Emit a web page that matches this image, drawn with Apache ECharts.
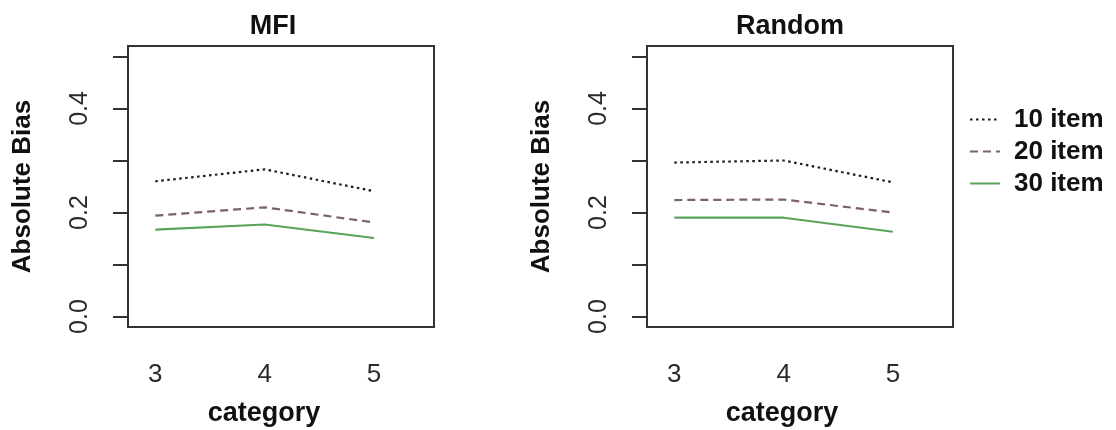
<!DOCTYPE html>
<html>
<head>
<meta charset="utf-8">
<script src="https://cdn.jsdelivr.net/npm/echarts@6/dist/echarts.min.js"></script>
<style>
  html, body { margin: 0; padding: 0; background: #fff; }
  #chart { width: 1116px; height: 430px; }
</style>
</head>
<body>
<div id="chart"></div>
<script>
// x positions (number of categories)
const categories = [3, 4, 5];
const seriesNames = ["10 item", "20 item", "30 item"];
// MFI panel
const mfi10 = [0.260, 0.283, 0.241];
const mfi20 = [0.194, 0.210, 0.181];
const mfi30 = [0.167, 0.177, 0.151];
// Random panel
const rnd10 = [0.296, 0.300, 0.258];
const rnd20 = [0.224, 0.225, 0.200];
const rnd30 = [0.190, 0.190, 0.163];
// y axis ticks / labels
const yTicks = [0, 0.1, 0.2, 0.3, 0.4, 0.5];
const yLabels = [0, 0.2, 0.4];

const font = "'Liberation Sans', Arial, sans-serif";
const styles = [
  { color: "#1a1a1a", type: [2.5, 3.5] },
  { color: "#7d6262", type: [8, 5] },
  { color: "#5aa35a", type: "solid" }
];

function pairs(ys) {
  return categories.map((x, i) => [x, ys[i]]);
}

function xAxis(idx, padRight) {
  return {
    type: "value",
    gridIndex: idx,
    min: 2.75,
    max: 5.55,
    axisLine: { show: false },
    axisTick: { show: false },
    splitLine: { show: false },
    axisLabel: {
      customValues: categories,
      fontSize: 26,
      color: "#2b2b2b",
      fontFamily: font,
      margin: 35
    },
    name: "category",
    nameLocation: "middle",
    nameGap: 73,
    nameMoveOverlap: false,
    nameTextStyle: {
      fontSize: 27,
      fontWeight: "bold",
      color: "#111",
      fontFamily: font,
      padding: [0, padRight, 0, 0]
    }
  };
}

function yAxis(idx) {
  return {
    type: "value",
    gridIndex: idx,
    min: -0.02,
    max: 0.52,
    axisLine: { show: false },
    splitLine: { show: false },
    axisTick: {
      show: true,
      customValues: yTicks,
      length: 15,
      lineStyle: { color: "#333", width: 2 }
    },
    axisLabel: {
      customValues: yLabels,
      rotate: 90,
      margin: 35,
      fontSize: 25,
      color: "#2b2b2b",
      fontFamily: font,
      formatter: (v) => v.toFixed(1)
    },
    name: "Absolute Bias",
    nameLocation: "middle",
    nameGap: 92,
    nameMoveOverlap: false,
    nameTextStyle: {
      fontSize: 26,
      fontWeight: "bold",
      color: "#111",
      fontFamily: font
    }
  };
}

function lines(idx, sets) {
  return sets.map((ys, i) => ({
    name: seriesNames[i],
    type: "line",
    xAxisIndex: idx,
    yAxisIndex: idx,
    data: pairs(ys),
    symbol: "none",
    silent: true,
    lineStyle: { color: styles[i].color, type: styles[i].type, width: 2.2 },
    itemStyle: { color: styles[i].color }
  }));
}

const chart = echarts.init(document.getElementById("chart"));
chart.setOption({
  backgroundColor: "#fff",
  animation: false,
  title: [
    {
      text: "MFI",
      left: 268,
      textAlign: "center",
      top: 8,
      textStyle: { fontSize: 27, fontWeight: "bold", color: "#111", fontFamily: font }
    },
    {
      text: "Random",
      left: 785,
      textAlign: "center",
      top: 8,
      textStyle: { fontSize: 27, fontWeight: "bold", color: "#111", fontFamily: font }
    }
  ],
  legend: {
    data: seriesNames,
    orient: "vertical",
    left: 964,
    top: 101,
    itemWidth: 30,
    itemHeight: 14,
    itemGap: 5,
    selectedMode: false,
    itemStyle: { opacity: 0 },
    textStyle: {
      fontSize: 26,
      fontWeight: "bold",
      color: "#111",
      fontFamily: font,
      lineHeight: 27,
      padding: [0, 0, 0, 9]
    }
  },
  grid: [
    {
      left: 128, top: 46, width: 306, height: 281,
      show: true, borderColor: "#333", borderWidth: 2,
      outerBoundsMode: "none"
    },
    {
      left: 647, top: 46, width: 306, height: 281,
      show: true, borderColor: "#333", borderWidth: 2,
      outerBoundsMode: "none"
    }
  ],
  xAxis: [xAxis(0, 34), xAxis(1, 36)],
  yAxis: [yAxis(0), yAxis(1)],
  series: [].concat(
    lines(0, [mfi10, mfi20, mfi30]),
    lines(1, [rnd10, rnd20, rnd30])
  )
});
</script>
</body>
</html>
